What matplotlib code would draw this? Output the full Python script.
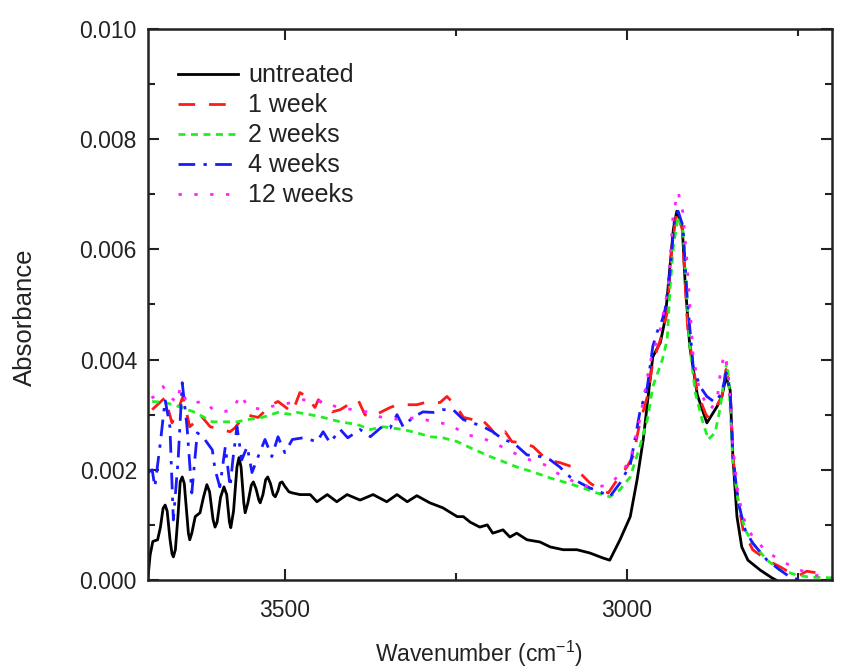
import matplotlib
matplotlib.use("Agg")
import matplotlib.pyplot as plt
from matplotlib.ticker import MultipleLocator, FixedLocator, FormatStrFormatter
import numpy as np

plt.rcParams['font.family'] = ['Liberation Sans', 'DejaVu Sans']
plt.rcParams['mathtext.default'] = 'regular'

# absorbance values given in units of 1e-3
wn_untreated = [3700, 3697, 3693, 3686, 3682, 3678, 3675, 3672, 3668, 3665, 3663, 3660, 3656, 3653,
                3650, 3647, 3643, 3641, 3639, 3636, 3631, 3624, 3619, 3614, 3610, 3605, 3602, 3599,
                3594, 3589, 3585, 3581, 3579, 3575, 3570, 3567, 3564, 3560, 3558, 3554, 3549, 3546,
                3542, 3538, 3536, 3532, 3528, 3525, 3521, 3517, 3514, 3510, 3507, 3504, 3500, 3494,
                3489, 3478, 3463, 3453, 3438, 3424, 3409, 3390,
                3371, 3351, 3336, 3321, 3307, 3288, 3269, 3248, 3239, 3229, 3215, 3204, 3196, 3181,
                3171, 3161, 3146, 3127, 3112, 3093, 3073, 3054, 3035, 3025, 3010, 2995, 2985, 2976,
                2966, 2962, 2951, 2944, 2940, 2932, 2927, 2919, 2915, 2908, 2897, 2883, 2868, 2861,
                2855, 2849, 2845, 2839, 2832, 2823, 2805, 2788, 2782]
abs_untreated = [0.05, 0.45, 0.70, 0.73, 0.95, 1.30, 1.36, 1.25, 0.75, 0.48, 0.42, 0.55, 1.20, 1.78,
                 1.87, 1.75, 1.15, 0.85, 0.73, 0.85, 1.15, 1.22, 1.50, 1.73, 1.60, 1.10, 0.96, 1.05,
                 1.50, 1.69, 1.55, 1.05, 0.95, 1.25, 2.05, 2.22, 2.05, 1.40, 1.22, 1.40, 1.72, 1.78,
                 1.65, 1.45, 1.40, 1.55, 1.82, 1.87, 1.75, 1.55, 1.51, 1.62, 1.76, 1.78, 1.70, 1.60,
                 1.58, 1.55, 1.55, 1.42, 1.55, 1.42, 1.55, 1.45,
                 1.55, 1.42, 1.55, 1.42, 1.53, 1.40, 1.31, 1.15, 1.15, 1.05, 0.96, 1.00, 0.85, 0.91,
                 0.78, 0.85, 0.73, 0.69, 0.60, 0.55, 0.55, 0.49, 0.40, 0.36, 0.73, 1.15, 1.82, 2.55,
                 3.64, 4.05, 4.31, 4.73, 5.27, 6.36, 6.69, 6.42, 5.45, 4.24, 3.36, 2.85, 3.15, 3.33,
                 3.69, 3.45, 2.24, 1.15, 0.60, 0.36, 0.18, 0.04, 0.0]

wn_1w = [3694, 3675, 3665, 3656, 3649, 3639, 3631, 3624, 3609, 3602, 3580, 3573, 3558, 3539, 3519,
         3510, 3489, 3478, 3468, 3456, 3451, 3431, 3419, 3402, 3393, 3383, 3375, 3346, 3335, 3307,
         3295, 3273, 3263, 3248, 3239, 3225, 3215, 3200, 3188, 3178, 3168, 3152, 3137, 3117, 3098,
         3079, 3073, 3054, 3039, 3027, 3014, 3000, 2991, 2981, 2970, 2962, 2951, 2941, 2934, 2927,
         2919, 2911, 2897, 2883, 2874, 2861, 2855, 2849, 2845, 2837, 2830, 2816, 2795, 2776, 2761,
         2747, 2737, 2722, 2700]
abs_1w = [3.09, 3.31, 2.85, 3.09, 3.33, 2.78, 2.87, 3.00, 2.78, 2.76, 2.69, 2.76, 3.00, 2.95, 3.18,
          3.24, 3.04, 3.40, 3.33, 3.13, 3.27, 3.05, 3.09, 3.22, 3.27, 3.00, 2.95, 3.13, 3.18, 3.18,
          3.22, 3.22, 3.33, 3.13, 2.95, 2.91, 2.95, 2.76, 2.58, 2.69, 2.51, 2.49, 2.42, 2.18, 2.13,
          2.05, 2.00, 1.76, 1.64, 1.58, 1.82, 2.05, 2.24, 2.85, 3.33, 3.95, 4.36, 4.85, 6.05, 6.67,
          6.36, 4.55, 3.40, 2.96, 3.04, 3.33, 3.82, 3.51, 2.24, 1.40, 0.91, 0.55, 0.36, 0.24, 0.13,
          0.09, 0.16, 0.13, 0.0]

wn_2w = [3694, 3675, 3656, 3631, 3606, 3587, 3570, 3554, 3533, 3510, 3489, 3482, 3463, 3444, 3419,
         3394, 3375, 3356, 3327, 3307, 3288, 3269, 3248, 3229, 3200, 3181, 3161, 3137, 3112, 3087,
         3064, 3044, 3025, 3010, 2995, 2981, 2970, 2962, 2948, 2941, 2937, 2932, 2925, 2918, 2915,
         2908, 2900, 2890, 2881, 2871, 2864, 2854, 2851, 2845, 2837, 2827, 2816, 2795, 2776, 2751,
         2732, 2700]
abs_2w = [3.24, 3.22, 3.15, 3.04, 2.87, 2.87, 2.87, 2.91, 2.95, 3.04, 3.00, 3.04, 3.00, 2.95, 2.87,
          2.82, 2.73, 2.78, 2.73, 2.67, 2.60, 2.58, 2.51, 2.40, 2.24, 2.15, 2.05, 1.96, 1.85, 1.76,
          1.67, 1.58, 1.51, 1.64, 1.87, 2.42, 2.91, 3.51, 4.00, 4.36, 5.27, 6.05, 6.60, 6.36, 5.76,
          4.24, 3.40, 2.91, 2.55, 2.67, 3.09, 3.95, 3.64, 2.13, 1.40, 0.91, 0.67, 0.36, 0.18, 0.09,
          0.05, 0.04]

wn_4w = [3700, 3694, 3690, 3682, 3675, 3668, 3663, 3656, 3650, 3643, 3636, 3628, 3620, 3606, 3602,
         3595, 3587, 3580, 3576, 3570, 3563, 3555, 3548, 3539, 3529, 3519, 3510, 3500, 3489, 3473,
         3453, 3444, 3434, 3419, 3408, 3390, 3375, 3358, 3346, 3336, 3327, 3313, 3298, 3283, 3269,
         3254, 3239, 3225, 3210, 3196, 3181, 3166, 3146, 3127, 3112, 3098, 3083, 3068, 3054, 3039,
         3025, 3010, 2995, 2981, 2970, 2962, 2956, 2948, 2944, 2937, 2930, 2925, 2918, 2912, 2903,
         2893, 2883, 2871, 2861, 2855, 2849, 2845, 2837, 2827, 2816, 2795, 2776, 2761, 2747]
abs_4w = [1.95, 2.00, 1.69, 2.49, 3.27, 2.78, 1.09, 2.18, 3.58, 2.78, 1.58, 2.67, 2.60, 2.36, 2.00,
          1.69, 2.42, 1.69, 2.18, 2.78, 2.18, 2.42, 1.95, 2.24, 2.55, 2.24, 2.60, 2.31, 2.55, 2.58,
          2.51, 2.69, 2.49, 2.73, 2.58, 2.73, 2.60, 2.78, 2.76, 3.00, 2.78, 2.95, 3.05, 3.04, 3.09,
          3.09, 2.91, 2.85, 2.78, 2.69, 2.55, 2.49, 2.27, 2.24, 2.18, 2.05, 1.87, 1.76, 1.67, 1.60,
          1.51, 1.76, 2.09, 3.04, 3.51, 4.24, 4.49, 4.73, 4.91, 5.58, 6.60, 6.69, 6.42, 5.15, 3.87,
          3.51, 3.33, 3.22, 3.40, 3.76, 3.45, 2.24, 1.40, 0.91, 0.67, 0.36, 0.18, 0.05, 0.0]

wn_12w = [3695, 3687, 3678, 3671, 3658, 3653, 3643, 3631, 3617, 3605, 3590, 3576, 3565, 3554, 3533,
          3519, 3489, 3473, 3446, 3422, 3400, 3375, 3361, 3332, 3307, 3283, 3258, 3236, 3212, 3188,
          3166, 3142, 3120, 3098, 3073, 3049, 3027, 3010, 2995, 2981, 2966, 2951, 2940, 2932, 2925,
          2918, 2912, 2903, 2893, 2878, 2868, 2864, 2858, 2852, 2845, 2837, 2827, 2816, 2795, 2772,
          2747, 2725, 2700]
abs_12w = [3.30, 3.36, 3.51, 3.36, 3.22, 3.49, 3.22, 3.22, 3.24, 3.09, 3.05, 3.09, 3.36, 3.15, 3.09,
           3.15, 3.22, 3.27, 3.24, 3.13, 3.09, 3.04, 2.96, 2.91, 2.95, 2.87, 2.82, 2.64, 2.58, 2.45,
           2.31, 2.18, 2.09, 1.91, 1.76, 1.67, 1.73, 1.91, 2.18, 2.91, 3.95, 4.55, 5.27, 6.67, 7.04,
           6.67, 5.76, 4.05, 3.40, 3.09, 3.27, 3.69, 4.09, 3.82, 2.42, 1.51, 1.04, 0.78, 0.51, 0.33,
           0.18, 0.09, 0.04]

labels = ['untreated', '1 week', '2 weeks', '4 weeks', '12 weeks']

TXT = '#222222'
fig = plt.figure(figsize=(8.43, 6.69), dpi=100)
ax = fig.add_axes([0.1756, 0.133, 0.8114, 0.824])

lw = 2.0
scale = 1e-3
ax.plot(wn_untreated, np.array(abs_untreated) * scale, color='black', lw=lw, ls='-', label=labels[0])
ax.plot(wn_1w, np.array(abs_1w) * scale, color='#ff1a1a', lw=lw, ls=(0, (6, 5)), label=labels[1])
ax.plot(wn_2w, np.array(abs_2w) * scale, color='#22ee22', lw=lw, ls=(0, (2.5, 2)), label=labels[2])
ax.plot(wn_4w, np.array(abs_4w) * scale, color='#1a1aff', lw=lw, ls=(0, (6, 3, 1.2, 3)), label=labels[3])
ax.plot(wn_12w, np.array(abs_12w) * scale, color='#ff22ff', lw=lw, ls=(0, (1.2, 4.5)), label=labels[4])

ax.set_xlim(3700, 2700)
ax.set_ylim(0, 0.010)
ax.xaxis.set_major_locator(FixedLocator([3500, 3000]))
ax.xaxis.set_minor_locator(FixedLocator([3750, 3250, 2750]))
ax.yaxis.set_major_locator(MultipleLocator(0.002))
ax.yaxis.set_minor_locator(MultipleLocator(0.001))
ax.yaxis.set_major_formatter(FormatStrFormatter('%.3f'))

ax.tick_params(which='both', direction='in', top=True, right=True, width=1.5, labelsize=16.5,
               colors=TXT)
ax.tick_params(which='major', length=8)
ax.tick_params(which='minor', length=5)
ax.tick_params(axis='x', which='major', pad=14)
ax.tick_params(axis='y', which='major', pad=8)
for s in ax.spines.values():
    s.set_linewidth(1.8)
    s.set_color(TXT)

ax.set_xlabel('Wavenumber (cm$^{-1}$)', fontsize=16.5, color=TXT)
ax.set_ylabel('Absorbance', fontsize=18.5, color=TXT)
ax.xaxis.set_label_coords(0.483, -0.107)
ax.yaxis.set_label_coords(-0.162, 0.476)

leg = ax.legend(loc='upper left', frameon=False, fontsize=18, handlelength=2.4,
                handletextpad=0.4, labelspacing=0.24, borderaxespad=0, borderpad=0,
                bbox_to_anchor=(0.044, 0.937))
for t in leg.get_texts():
    t.set_color(TXT)

fig.savefig('out.png', dpi=100)
